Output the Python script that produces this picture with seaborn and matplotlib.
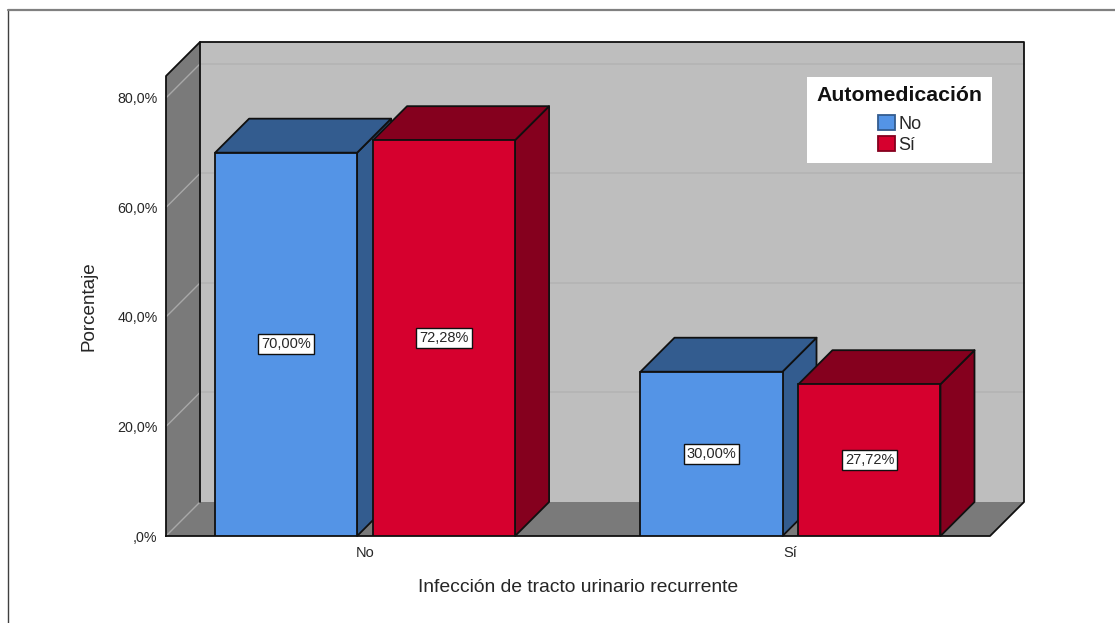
import matplotlib
matplotlib.use("Agg")
import matplotlib.pyplot as plt
from matplotlib.lines import Line2D
from matplotlib.patches import Patch, Polygon
import pandas as pd
import seaborn as sns

# Survey results: percentage within each self-medication group
infection_levels = ["No", "Sí"]
selfmed_levels = ["No", "Sí"]
pct_selfmed_no = [70.00, 30.00]
pct_selfmed_si = [72.28, 27.72]
y_ticks = [0, 20, 40, 60, 80]
y_tick_labels = [",0%", "20,0%", "40,0%", "60,0%", "80,0%"]

FRONT = {"No": "#5494E6", "Sí": "#D6002E"}
SHADE = {"No": "#335C8F", "Sí": "#85001E"}
WALL = "#BEBEBE"
SIDE_WALL = "#7A7A7A"
EDGE = "#101010"
TEXT = "#262626"

df = pd.DataFrame({
    "infeccion": infection_levels * 2,
    "automedicacion": ["No"] * 2 + ["Sí"] * 2,
    "porcentaje": pct_selfmed_no + pct_selfmed_si,
})

sns.set_theme(style="white")
plt.rcParams["font.family"] = ["Liberation Sans", "DejaVu Sans"]

W, H = 1115, 623
fig = plt.figure(figsize=(W / 100, H / 100), dpi=100, facecolor="white")
ax = fig.add_axes([166 / W, (H - 536) / H, 824 / W, 460 / H])
ax.patch.set_alpha(0)

sns.barplot(
    data=df, x="infeccion", y="porcentaje", hue="automedicacion",
    order=infection_levels, hue_order=selfmed_levels, palette=FRONT,
    width=0.7427, gap=0.101, edgecolor=EDGE, linewidth=1.3,
    errorbar=None, legend=False, ax=ax, saturation=1,
)

XMIN, XMAX, YMAX = -0.468, 1.469, 84.0
ax.set_xlim(XMIN, XMAX)
ax.set_ylim(0, YMAX)

# Oblique depth of the box, expressed in data units (34 px along each axis)
DX = (XMAX - XMIN) * 34 / 824
DY = YMAX * 34 / 460


def face(points, color, z, edge="none", lw=0.0):
    ax.add_patch(Polygon(points, closed=True, facecolor=color, edgecolor=edge,
                         linewidth=lw, joinstyle="round", clip_on=False, zorder=z))


def stroke(xs, ys, color=EDGE, lw=1.3, z=1.0):
    ax.add_line(Line2D(xs, ys, color=color, lw=lw, clip_on=False, zorder=z,
                       solid_capstyle="round"))


# Room: back wall, left wall and floor
face([(XMIN + DX, DY), (XMAX + DX, DY), (XMAX + DX, YMAX + DY), (XMIN + DX, YMAX + DY)], WALL, 0.2)
face([(XMIN, 0), (XMIN + DX, DY), (XMIN + DX, YMAX + DY), (XMIN, YMAX)], SIDE_WALL, 0.3)
face([(XMIN, 0), (XMAX, 0), (XMAX + DX, DY), (XMIN + DX, DY)], SIDE_WALL, 0.3)

# Gridlines run along the back wall and fold onto the left wall
for t in y_ticks:
    if t > 0:
        stroke([XMIN + DX, XMAX + DX], [t + DY, t + DY], color="#B3B3B3", lw=1.1, z=0.4)
    stroke([XMIN, XMIN + DX], [t, t + DY], color="#A8A8A8", lw=1.0, z=0.4)

# Outline of the box
stroke([XMIN, XMIN, XMIN + DX, XMAX + DX, XMAX + DX, XMAX, XMIN],
       [0, YMAX, YMAX + DY, YMAX + DY, DY, 0, 0], z=0.6)
stroke([XMIN + DX, XMIN + DX], [DY, YMAX + DY], z=0.6)

# Each bar gets its side and top faces, painted in left-to-right order
bars = [b for c in ax.containers for b in c]
for i, bar in enumerate(bars):
    x0, w, h = bar.get_x(), bar.get_width(), bar.get_height()
    key = selfmed_levels[i // len(infection_levels)]
    z = 2 + i
    face([(x0 + w, 0), (x0 + w + DX, DY), (x0 + w + DX, h + DY), (x0 + w, h)],
         SHADE[key], z, EDGE, 1.3)
    face([(x0, h), (x0 + w, h), (x0 + w + DX, h + DY), (x0 + DX, h + DY)],
         SHADE[key], z, EDGE, 1.3)
    bar.set_zorder(z + 0.1)

# Value labels in Spanish decimal notation, centred on the front faces
for container in ax.containers:
    ax.bar_label(
        container, labels=[f"{b.get_height():.2f}%".replace(".", ",") for b in container],
        label_type="center", fontsize=10.5, color=TEXT, zorder=30,
        bbox=dict(boxstyle="square,pad=0.2", facecolor="white", edgecolor=EDGE, linewidth=1.0),
    )

ax.set_yticks(y_ticks, y_tick_labels)
ax.tick_params(axis="y", length=0, pad=6, labelsize=10.3, labelcolor=TEXT)
ax.tick_params(axis="x", length=0, pad=7, labelsize=10.5, labelcolor=TEXT)
ax.set_xlabel("Infección de tracto urinario recurrente", fontsize=13.9, color=TEXT, labelpad=14)
ax.set_ylabel("Porcentaje", fontsize=13.6, color=TEXT, labelpad=14)
sns.despine(ax=ax, left=True, bottom=True)

# Legend box sits against the back wall
handles = [Patch(facecolor=FRONT[k], edgecolor=SHADE[k], linewidth=1.3, label=k) for k in selfmed_levels]
leg = ax.legend(
    handles=handles, title="Automedicación", loc="upper left",
    bbox_to_anchor=(807 / W, (H - 76.7) / H), bbox_transform=fig.transFigure,
    frameon=True, framealpha=1, facecolor="white", edgecolor="none", fancybox=False,
    fontsize=13, handlelength=0.94, handleheight=0.94, handletextpad=0.18,
    labelspacing=0.16, borderpad=0.53, borderaxespad=0,
    title_fontproperties={"size": 15.3, "weight": "bold"},
)
leg._legend_box.sep = 7
leg.get_title().set_color("#111111")
leg.set_zorder(40)
for t in leg.get_texts():
    t.set_color(TEXT)

# Chart frame, open at the right and bottom
fig.add_artist(Line2D([8 / W, 8 / W], [0, (H - 10) / H], color="#404040", lw=1.0))
fig.add_artist(Line2D([8 / W, 1], [(H - 10) / H, (H - 10) / H], color="#808080", lw=1.6))

fig.savefig("out.png", dpi=100)
